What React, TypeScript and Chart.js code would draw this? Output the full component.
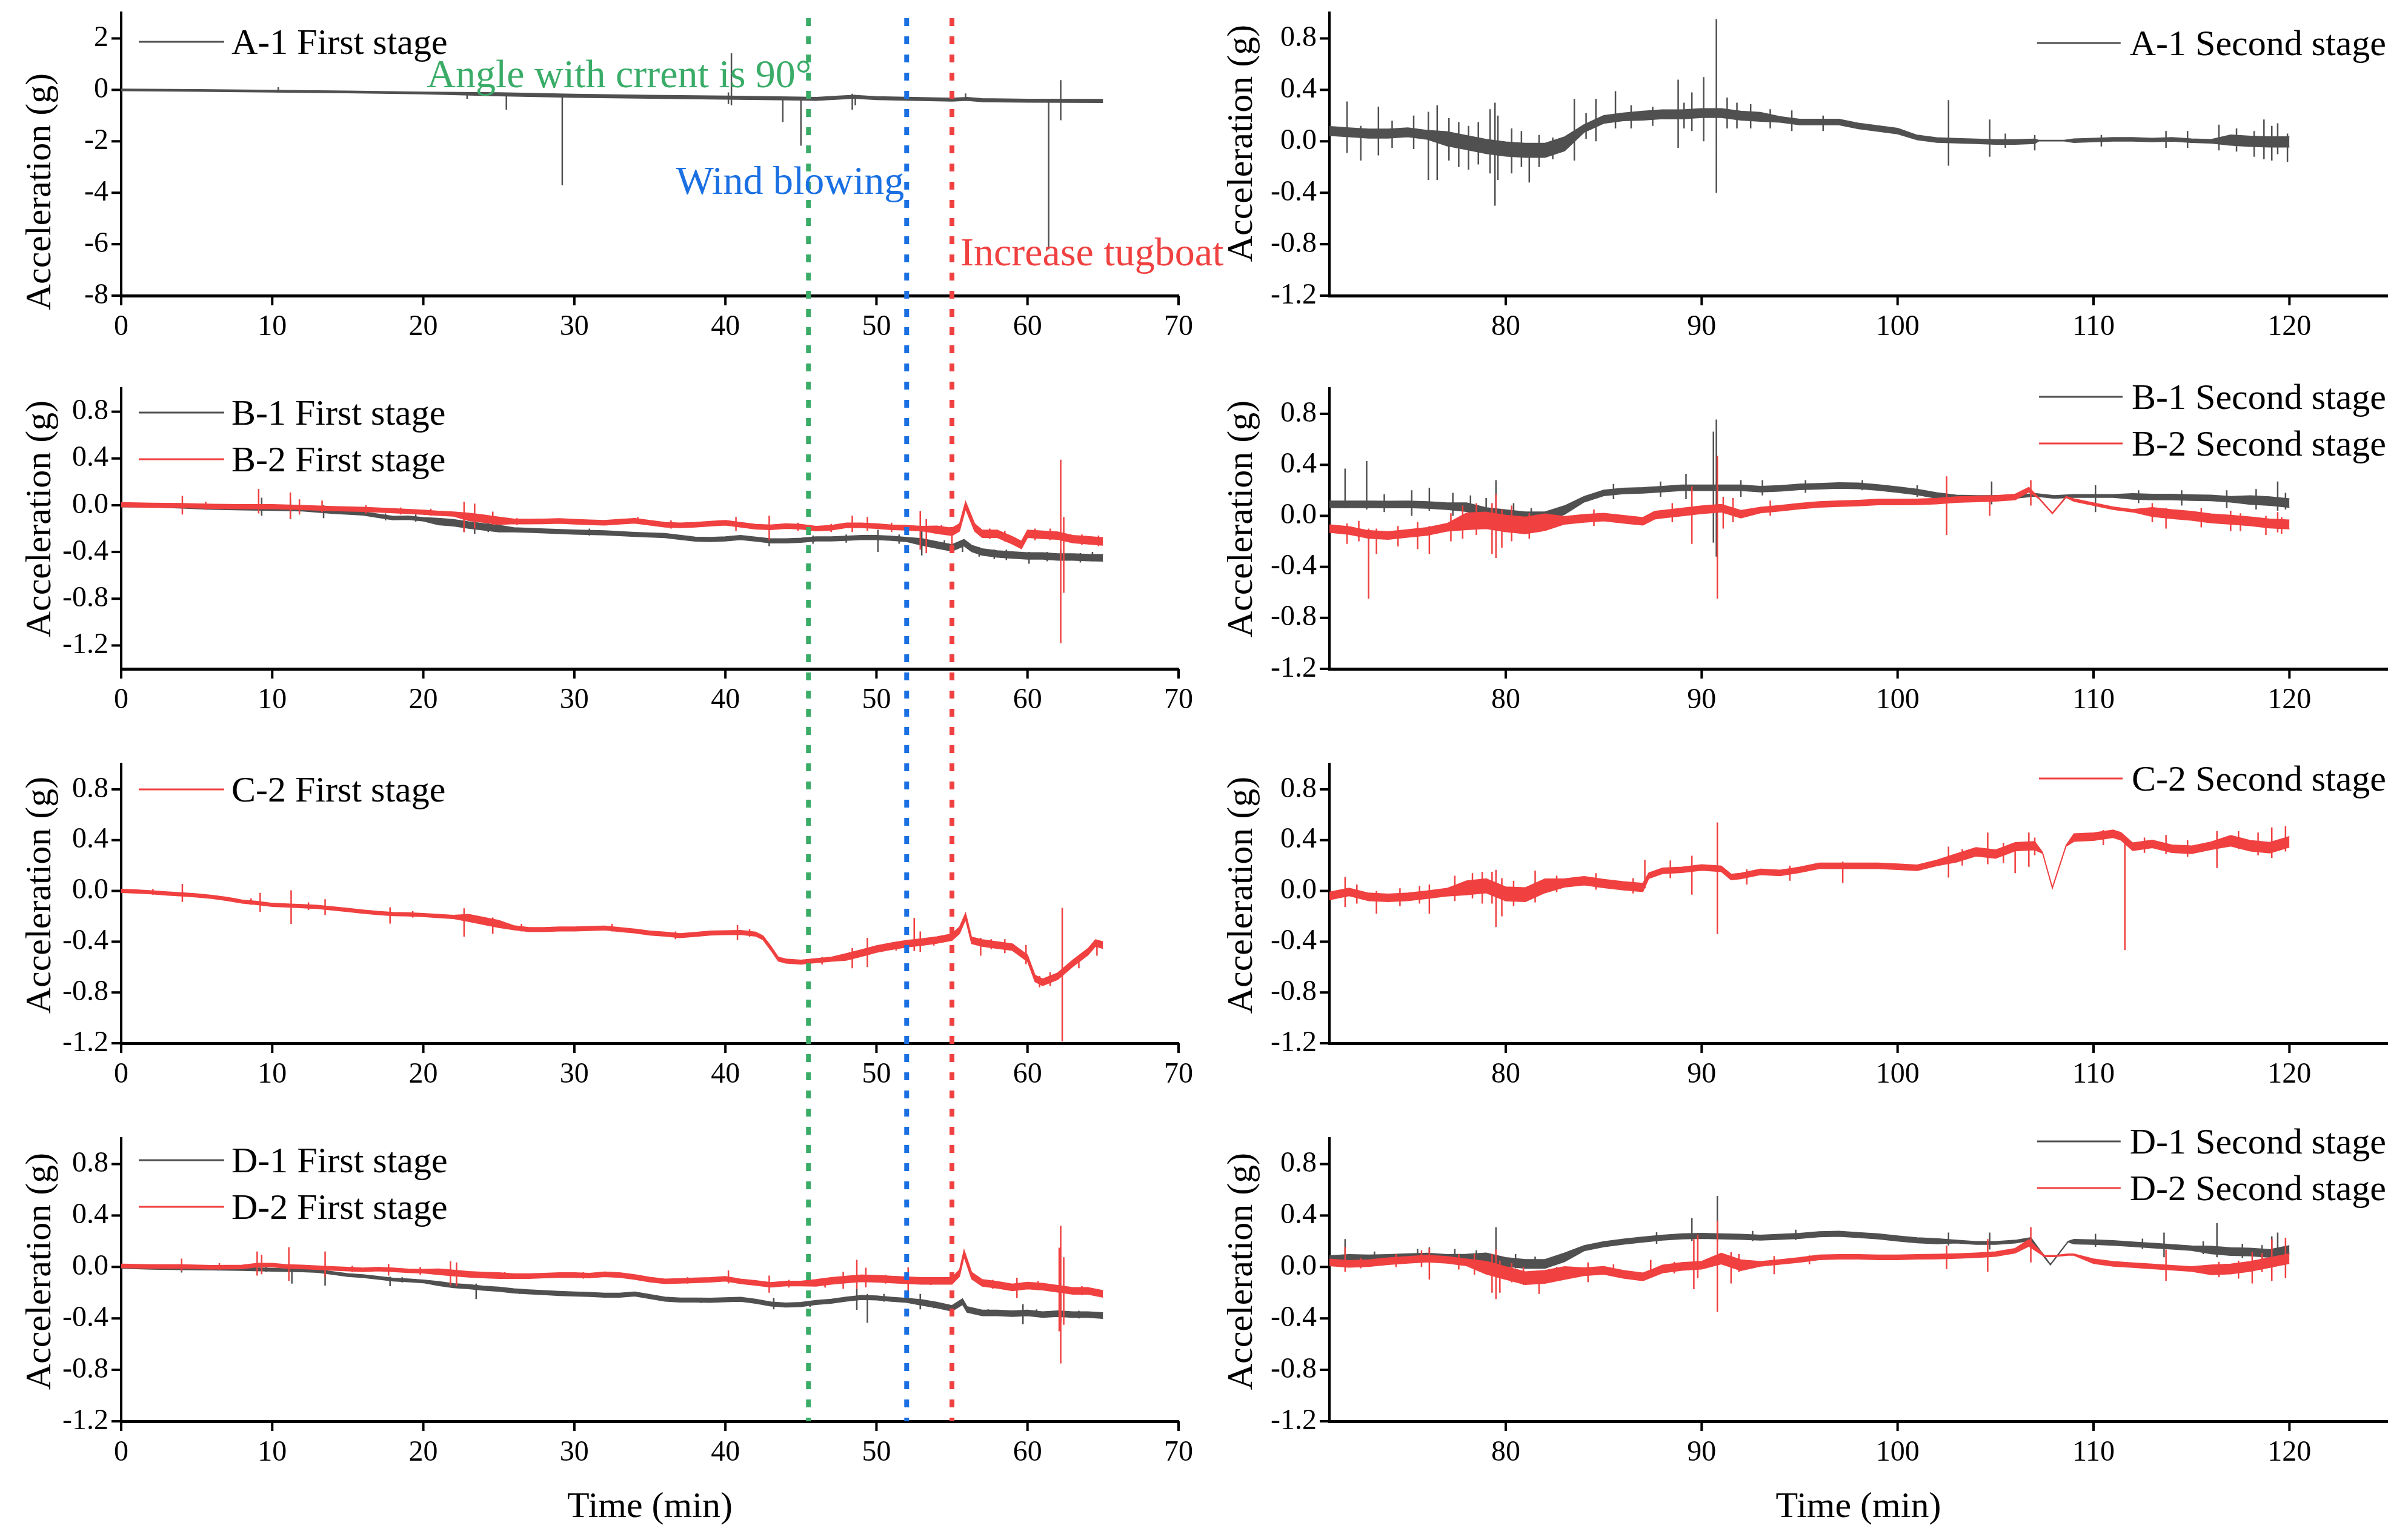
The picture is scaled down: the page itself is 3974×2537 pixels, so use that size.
import React, { useEffect, useRef } from 'react';
import Chart from 'chart.js/auto';

type Pt = [number, number];
type Noise = [number, number, number]; // from, to, half width of the noise band (g)
type Spike = [number, number, number]; // time, low, high (g)

// ---------- axes ----------
const firstStageTicks = [0, 10, 20, 30, 40, 50, 60, 70];
const secondStageTicks = [80, 90, 100, 110, 120];
const accelTicks = [-1.2, -0.8, -0.4, 0, 0.4, 0.8];
const a1FirstAccelTicks = [-8, -6, -4, -2, 0, 2];

// ---------- events during the first stage (min) ----------
const eventTimes = [45.5, 52, 55];
const eventLabels = ['Angle with crrent is 90°', 'Wind blowing', 'Increase tugboat'];

// ---------- A-1 ----------
const a1First: Pt[] = [[0, 0], [5, -0.02], [10, -0.05], [15, -0.08], [20, -0.12], [25, -0.17], [30, -0.23], [35, -0.27], [40, -0.3], [45, -0.34], [46, -0.35], [47.5, -0.3], [48.5, -0.27], [50, -0.32], [55, -0.38], [56, -0.35], [57, -0.4], [60, -0.42], [65, -0.43]];
const a1FirstNoise: Noise[] = [[0, 20, 0.035], [20, 65, 0.06]];
const a1FirstSpikes: Spike[] = [[10.4, -0.1, 0.1], [22.9, -0.35, -0.1], [25.5, -0.77, -0.18], [29.2, -3.71, -0.2], [40.2, -0.55, -0.1], [40.4, -0.6, 1.42], [43.8, -1.25, -0.3], [45.0, -2.17, -0.3], [48.4, -0.77, -0.15], [48.6, -0.6, -0.2], [55.9, -0.4, -0.14], [61.4, -6.2, -0.4], [62.2, -1.18, 0.38]];

const a1Second: Pt[] = [[71, 0.08], [72, 0.07], [73, 0.06], [74, 0.06], [75, 0.07], [76, 0.05], [77, 0.02], [78, -0.01], [79, -0.04], [80, -0.06], [81, -0.07], [82, -0.07], [83, -0.02], [84, 0.1], [85, 0.17], [86, 0.19], [87, 0.2], [88, 0.21], [89, 0.21], [90, 0.22], [91, 0.22], [92, 0.2], [93, 0.19], [94, 0.17], [95, 0.15], [96, 0.15], [97, 0.15], [98, 0.12], [99, 0.1], [100, 0.08], [101, 0.03], [102, 0.01], [103, 0.005], [104, 0], [105, -0.005], [106, -0.005], [107, 0], [107.2, 0.005], [108.5, 0.005], [109, 0.005], [110, 0.01], [111, 0.015], [112, 0.015], [113, 0.01], [114, 0.015], [115, 0.005], [116, 0], [117, 0.01], [118, 0], [119, -0.005], [120, -0.005]];
const a1SecondNoise: Noise[] = [[71, 76, 0.035], [76, 83, 0.055], [83, 86, 0.03], [86, 93, 0.035], [93, 100, 0.022], [100, 107, 0.018], [107.2, 108.5, 0.003], [108.5, 116, 0.014], [116, 120, 0.04]];
const a1SecondSpikes: Spike[] = [[71.9, -0.09, 0.31], [72.6, -0.15, 0.12], [73.5, -0.11, 0.27], [74.2, -0.05, 0.16], [75.3, -0.06, 0.2], [76.05, -0.3, 0.23], [76.5, -0.3, 0.28], [77.1, -0.15, 0.18], [77.6, -0.2, 0.15], [78.1, -0.22, 0.12], [78.6, -0.18, 0.15], [79.2, -0.25, 0.25], [79.45, -0.5, 0.3], [79.6, -0.3, 0.2], [80.3, -0.25, 0.1], [80.8, -0.2, 0.08], [81.2, -0.32, -0.05], [81.7, -0.2, 0.05], [82.4, -0.14, 0.03], [83.5, -0.15, 0.33], [84.1, 0.02, 0.22], [84.6, 0.0, 0.33], [85.6, 0.1, 0.39], [86.4, 0.1, 0.28], [87.5, 0.12, 0.27], [88.8, -0.05, 0.48], [89.1, 0.1, 0.3], [89.5, 0.08, 0.38], [90.1, 0.0, 0.5], [90.75, -0.4, 0.95], [91.3, 0.1, 0.34], [91.8, 0.1, 0.3], [92.5, 0.1, 0.29], [93.5, 0.1, 0.25], [94.6, 0.08, 0.24], [96.2, 0.08, 0.2], [102.6, -0.19, 0.32], [104.7, -0.12, 0.17], [105.5, -0.05, 0.06], [107, -0.07, 0.05], [110.4, -0.04, 0.05], [113.7, -0.05, 0.08], [114.8, -0.05, 0.08], [116.4, -0.07, 0.13], [117.3, -0.08, 0.1], [118.2, -0.12, 0.08], [118.7, -0.14, 0.17], [119.1, -0.15, 0.12], [119.4, -0.1, 0.14], [119.9, -0.16, 0.06]];

// ---------- B-1 / B-2 ----------
const b1First: Pt[] = [[0, 0], [2, 0], [4, -0.01], [6, -0.02], [8, -0.025], [10, -0.03], [12, -0.035], [14, -0.055], [16, -0.07], [17, -0.09], [18, -0.11], [19, -0.107], [20, -0.12], [21, -0.14], [22, -0.15], [23, -0.17], [24, -0.185], [25, -0.2], [26, -0.21], [27, -0.215], [28, -0.22], [30, -0.23], [32, -0.236], [34, -0.25], [36, -0.26], [37, -0.275], [38, -0.29], [39, -0.293], [40, -0.288], [41, -0.276], [42, -0.29], [43, -0.305], [44, -0.305], [45, -0.3], [46, -0.288], [47, -0.288], [48, -0.283], [49, -0.276], [50, -0.276], [51, -0.283], [52, -0.293], [53, -0.314], [54, -0.34], [55, -0.365], [55.8, -0.32], [56.3, -0.37], [57, -0.4], [58, -0.417], [59, -0.426], [60, -0.434], [61, -0.434], [62, -0.443], [63, -0.443], [64, -0.448], [65, -0.45]];
const b1FirstNoise: Noise[] = [[0, 20, 0.015], [20, 25, 0.028], [25, 52, 0.018], [52, 65, 0.028]];
const b1FirstSpikes: Spike[] = [[9.3, -0.09, 0.065], [11.2, -0.12, 0.05], [13.4, -0.11, 0.0], [17.5, -0.13, -0.07], [19.5, -0.14, -0.08], [22.7, -0.23, -0.1], [23.4, -0.245, -0.12], [24.3, -0.23, -0.15], [31, -0.26, -0.2], [42.9, -0.35, -0.28], [45.8, -0.33, -0.26], [48, -0.32, -0.25], [50.1, -0.4, -0.21], [51.5, -0.33, -0.25], [53, -0.43, -0.19], [54.5, -0.38, -0.3], [55.7, -0.4, -0.32], [56.8, -0.44, -0.36], [57.8, -0.46, -0.38], [58.6, -0.47, -0.38], [60.1, -0.5, -0.4], [61.3, -0.48, -0.4], [62.2, -0.47, -0.38], [63.5, -0.49, -0.41], [64.3, -0.48, -0.4]];

const b2First: Pt[] = [[0, 0.005], [2, 0], [4, -0.003], [6, -0.009], [8, -0.012], [10, -0.012], [12, -0.02], [14, -0.029], [16, -0.035], [18, -0.047], [20, -0.06], [21, -0.069], [22, -0.076], [23, -0.1], [24, -0.115], [25, -0.133], [26, -0.138], [27, -0.14], [28, -0.138], [29, -0.135], [30, -0.141], [31, -0.146], [32, -0.15], [33, -0.141], [34, -0.133], [35, -0.15], [36, -0.167], [37, -0.172], [38, -0.167], [39, -0.158], [40, -0.15], [41, -0.167], [42, -0.184], [43, -0.189], [44, -0.179], [45, -0.184], [46, -0.2], [47, -0.193], [48, -0.172], [49, -0.172], [50, -0.179], [51, -0.189], [52, -0.193], [53, -0.2], [54, -0.21], [55, -0.228], [55.5, -0.19], [55.9, 0.0], [56.5, -0.19], [57, -0.245], [58, -0.245], [59, -0.3], [59.6, -0.34], [60, -0.245], [61, -0.253], [62, -0.26], [63, -0.29], [64, -0.3], [65, -0.31]];
const b2FirstNoise: Noise[] = [[0, 22, 0.018], [22, 25, 0.032], [25, 53, 0.02], [53, 65, 0.032]];
const b2FirstSpikes: Spike[] = [[4.05, -0.08, 0.08], [5.6, -0.04, 0.03], [9.1, -0.07, 0.14], [11.2, -0.12, 0.11], [11.8, -0.08, 0.05], [13.3, -0.06, 0.04], [16.2, -0.07, 0.0], [18.5, -0.08, -0.02], [20.5, -0.09, -0.03], [22.7, -0.23, 0.03], [23.4, -0.2, 0.014], [24.6, -0.17, -0.055], [26.2, -0.17, -0.11], [34.2, -0.16, -0.1], [36.4, -0.2, -0.13], [40.7, -0.22, -0.1], [42.9, -0.3, -0.09], [44.8, -0.22, -0.15], [47, -0.23, -0.16], [48.4, -0.23, -0.09], [49.4, -0.22, -0.1], [51, -0.23, -0.15], [52.9, -0.38, -0.05], [53.3, -0.41, -0.12], [54.3, -0.25, -0.17], [55, -0.41, -0.2], [57.5, -0.29, -0.2], [58.5, -0.31, -0.22], [60.5, -0.3, -0.2], [61.5, -0.3, -0.2], [62.2, -1.18, 0.39], [62.4, -0.75, -0.1], [63.6, -0.34, -0.25], [64.7, -0.35, -0.26]];

const b1Second: Pt[] = [[71, 0.09], [72, 0.09], [73, 0.09], [74, 0.089], [75, 0.09], [76, 0.085], [77, 0.076], [78, 0.068], [79, 0.03], [80, 0.013], [81, -0.003], [82, -0.003], [83, 0.045], [84, 0.13], [85, 0.18], [86, 0.195], [87, 0.2], [88, 0.21], [89, 0.22], [90, 0.22], [91, 0.22], [92, 0.22], [93, 0.21], [94, 0.215], [95, 0.227], [96, 0.232], [97, 0.238], [98, 0.235], [99, 0.222], [100, 0.206], [101, 0.187], [102, 0.159], [103, 0.152], [104, 0.148], [105, 0.148], [106, 0.148], [107, 0.165], [108, 0.148], [109, 0.156], [110, 0.156], [111, 0.156], [112, 0.152], [113, 0.148], [114, 0.148], [115, 0.143], [116, 0.14], [117, 0.13], [118, 0.124], [119, 0.116], [120, 0.1]];
const b1SecondNoise: Noise[] = [[71, 77, 0.026], [77, 83, 0.034], [83, 102, 0.022], [102, 111, 0.011], [111, 117, 0.022], [117, 120, 0.034]];
const b1SecondSpikes: Spike[] = [[71.8, 0.06, 0.37], [72.9, 0.05, 0.43], [73.8, 0.03, 0.17], [75.2, 0.0, 0.2], [76.1, 0.04, 0.22], [77.3, 0.0, 0.18], [78.2, -0.03, 0.16], [79.0, -0.06, 0.14], [79.5, -0.05, 0.28], [80.4, -0.06, 0.1], [81.3, -0.08, 0.06], [85.5, 0.13, 0.25], [87.9, 0.15, 0.27], [89.2, 0.13, 0.33], [90.6, -0.21, 0.66], [90.75, -0.32, 0.755], [92.0, 0.15, 0.28], [93.1, 0.16, 0.28], [95.3, 0.18, 0.28], [98.2, 0.2, 0.28], [101, 0.15, 0.24], [104.8, 0.09, 0.27], [110.1, 0.03, 0.24], [112.3, 0.1, 0.2], [114.5, 0.08, 0.2], [116.8, 0.06, 0.2], [118.3, 0.05, 0.21], [119.4, 0.04, 0.27], [119.8, 0.05, 0.18]];

const b2Second: Pt[] = [[71, -0.1], [72, -0.115], [73, -0.146], [74, -0.154], [75, -0.138], [76, -0.122], [77, -0.09], [78, -0.043], [79, -0.035], [80, -0.06], [81, -0.075], [82, -0.05], [83, -0.035], [84, -0.02], [85, -0.01], [86, -0.027], [87, -0.043], [87.6, 0.005], [88, 0.013], [89, 0.03], [90, 0.048], [91, 0.06], [92, 0.013], [93, 0.045], [94, 0.06], [95, 0.076], [96, 0.089], [97, 0.095], [98, 0.1], [99, 0.108], [100, 0.108], [101, 0.11], [102, 0.116], [103, 0.127], [104, 0.132], [105, 0.137], [106, 0.148], [106.7, 0.206], [107.2, 0.14], [107.9, 0.02], [108.6, 0.148], [109, 0.124], [110, 0.092], [111, 0.06], [112, 0.04], [113, 0.03], [114, 0.013], [115, 0], [116, -0.02], [117, -0.03], [118, -0.043], [119, -0.06], [120, -0.067]];
const b2SecondNoise: Noise[] = [[71, 77, 0.03], [77, 82, 0.065], [82, 92, 0.03], [92, 106, 0.022], [106, 107, 0.018], [107, 108.6, 0.004], [108.6, 112, 0.01], [112, 120, 0.035]];
const b2SecondSpikes: Spike[] = [[71.9, -0.22, -0.06], [72.5, -0.2, -0.04], [73, -0.65, -0.1], [73.4, -0.3, -0.1], [74.5, -0.24, -0.08], [75.5, -0.26, -0.05], [76.1, -0.3, -0.08], [77.2, -0.2, 0.02], [77.8, -0.18, 0.08], [78.5, -0.15, 0.1], [79.3, -0.3, 0.1], [79.5, -0.33, 0.17], [79.8, -0.25, 0.05], [80.3, -0.2, 0.08], [81.2, -0.18, 0.02], [84.5, -0.08, 0.05], [88.5, -0.05, 0.1], [89.5, -0.22, 0.23], [90.8, -0.65, 0.47], [91.1, -0.1, 0.15], [91.6, -0.05, 0.14], [93.5, 0.0, 0.12], [102.5, -0.15, 0.31], [104.7, 0.0, 0.16], [106.8, 0.08, 0.28], [113, -0.05, 0.1], [113.7, -0.1, 0.06], [115.5, -0.09, 0.06], [117, -0.12, 0.04], [117.5, -0.12, 0.02], [118.8, -0.15, 0.0], [119.4, -0.13, 0.03], [119.6, -0.14, -0.01]];

// ---------- C-2 ----------
const c2First: Pt[] = [[0, 0], [1, -0.005], [2, -0.011], [3, -0.02], [4, -0.027], [5, -0.036], [6, -0.047], [7, -0.063], [8, -0.084], [9, -0.095], [10, -0.11], [11, -0.115], [12, -0.12], [13, -0.126], [14, -0.138], [15, -0.15], [16, -0.163], [17, -0.174], [18, -0.182], [19, -0.185], [20, -0.19], [21, -0.198], [22, -0.205], [23, -0.213], [24, -0.237], [25, -0.26], [26, -0.29], [27, -0.305], [28, -0.305], [29, -0.3], [30, -0.3], [31, -0.296], [32, -0.292], [33, -0.305], [34, -0.316], [35, -0.332], [36, -0.34], [37, -0.352], [38, -0.343], [39, -0.332], [40, -0.329], [41, -0.327], [42, -0.34], [42.5, -0.37], [43, -0.45], [43.5, -0.537], [44, -0.553], [45, -0.561], [46, -0.549], [47, -0.538], [48, -0.52], [49, -0.49], [50, -0.458], [51, -0.435], [52, -0.416], [53, -0.403], [54, -0.387], [55, -0.364], [55.5, -0.31], [55.9, -0.2], [56.3, -0.39], [57, -0.41], [58, -0.427], [59, -0.443], [60, -0.53], [60.5, -0.69], [61, -0.72], [62, -0.672], [63, -0.57], [64, -0.48], [64.5, -0.41], [65, -0.427]];
const c2FirstNoise: Noise[] = [[0, 22, 0.013], [22, 25, 0.028], [25, 47, 0.016], [47, 65, 0.026]];
const c2FirstSpikes: Spike[] = [[2.1, -0.03, 0.015], [4.05, -0.087, 0.055], [8.6, -0.11, -0.06], [9.2, -0.165, -0.015], [11.25, -0.26, 0.005], [12.4, -0.15, -0.09], [13.5, -0.19, -0.065], [17.8, -0.257, -0.13], [19.3, -0.21, -0.16], [22.7, -0.36, -0.137], [24.6, -0.337, -0.21], [26.5, -0.32, -0.26], [32.5, -0.32, -0.26], [36.7, -0.38, -0.32], [40.8, -0.387, -0.269], [41.6, -0.36, -0.3], [46.4, -0.58, -0.52], [48.4, -0.61, -0.45], [49.4, -0.6, -0.37], [51.3, -0.47, -0.4], [52.5, -0.474, -0.213], [52.9, -0.48, -0.32], [53.8, -0.43, -0.36], [56.9, -0.51, -0.37], [57.6, -0.46, -0.38], [58.5, -0.49, -0.38], [59.9, -0.577, -0.427], [60.8, -0.76, -0.67], [61.5, -0.75, -0.64], [62.3, -1.186, -0.134], [63.4, -0.61, -0.52], [64.6, -0.51, -0.4]];

const c2Second: Pt[] = [[71, -0.04], [72, -0.008], [73, -0.047], [74, -0.055], [75, -0.047], [76, -0.03], [77, -0.01], [78, 0.024], [79, 0.04], [80, -0.024], [81, -0.03], [82, 0.04], [83, 0.063], [84, 0.08], [85, 0.058], [86, 0.04], [87, 0.027], [87.3, 0.12], [88, 0.158], [89, 0.166], [90, 0.185], [91, 0.174], [91.5, 0.11], [92, 0.118], [93, 0.15], [94, 0.142], [95, 0.166], [96, 0.198], [97, 0.198], [98, 0.198], [99, 0.198], [100, 0.19], [101, 0.182], [102, 0.22], [103, 0.26], [104, 0.308], [105, 0.29], [106, 0.348], [107, 0.356], [107.4, 0.3], [107.9, 0.024], [108.6, 0.356], [109, 0.42], [110, 0.427], [111, 0.45], [111.4, 0.43], [112, 0.348], [113, 0.37], [114, 0.332], [115, 0.324], [116, 0.356], [117, 0.395], [118, 0.356], [119, 0.34], [120, 0.387]];
const c2SecondNoise: Noise[] = [[71, 77, 0.03], [77, 82, 0.055], [82, 87, 0.033], [87, 102, 0.022], [102, 107, 0.033], [107.3, 108.7, 0.004], [108.7, 116, 0.03], [116, 120, 0.042]];
const c2SecondSpikes: Spike[] = [[71.8, -0.126, 0.11], [72.4, -0.1, 0.05], [73.4, -0.18, 0.0], [74.6, -0.12, 0.02], [75.6, -0.1, 0.04], [76.1, -0.18, 0.05], [77.4, -0.08, 0.12], [78.3, -0.06, 0.14], [78.8, -0.1, 0.15], [79.3, -0.1, 0.15], [79.5, -0.285, 0.166], [79.8, -0.2, 0.1], [80.4, -0.12, 0.08], [81.5, -0.09, 0.16], [82.6, -0.01, 0.12], [84.6, 0.01, 0.14], [86.5, -0.02, 0.1], [87.1, 0.02, 0.245], [88.4, 0.1, 0.24], [89.5, -0.03, 0.277], [90.8, -0.34, 0.54], [92.3, 0.05, 0.17], [94.5, 0.08, 0.2], [97.2, 0.063, 0.23], [102.6, 0.105, 0.348], [103.3, 0.2, 0.33], [104.6, 0.21, 0.46], [105.4, 0.22, 0.38], [106, 0.14, 0.37], [106.7, 0.19, 0.46], [107, 0.28, 0.42], [110.5, 0.36, 0.48], [111.6, -0.466, 0.43], [112.6, 0.3, 0.42], [113.7, 0.29, 0.44], [114.8, 0.27, 0.4], [116.3, 0.18, 0.47], [117.4, 0.33, 0.47], [118.4, 0.28, 0.46], [119.1, 0.26, 0.5], [119.8, 0.31, 0.51]];

// ---------- D-1 / D-2 ----------
const d1First: Pt[] = [[0, 0], [2, -0.006], [4, -0.01], [6, -0.012], [8, -0.016], [10, -0.022], [12, -0.027], [13, -0.031], [14, -0.047], [15, -0.063], [16, -0.071], [17, -0.084], [18, -0.098], [19, -0.104], [20, -0.112], [21, -0.129], [22, -0.145], [23, -0.153], [24, -0.165], [25, -0.173], [26, -0.186], [27, -0.194], [28, -0.2], [29, -0.206], [30, -0.21], [31, -0.214], [32, -0.22], [33, -0.22], [34, -0.21], [35, -0.23], [36, -0.25], [37, -0.257], [38, -0.257], [39, -0.259], [40, -0.255], [41, -0.251], [42, -0.267], [43, -0.288], [44, -0.296], [45, -0.292], [46, -0.276], [47, -0.267], [48, -0.25], [49, -0.237], [50, -0.241], [51, -0.251], [52, -0.26], [53, -0.276], [54, -0.296], [55, -0.322], [55.7, -0.27], [56, -0.33], [57, -0.357], [58, -0.357], [59, -0.363], [60, -0.357], [61, -0.37], [62, -0.363], [63, -0.37], [64, -0.37], [65, -0.378]];
const d1FirstNoise: Noise[] = [[0, 20, 0.011], [20, 52, 0.016], [52, 65, 0.022]];
const d1FirstSpikes: Spike[] = [[4, -0.043, 0.004], [9.6, -0.04, 0.0], [11.3, -0.13, -0.01], [13.5, -0.145, -0.02], [17.8, -0.15, -0.075], [18.6, -0.12, -0.08], [23.5, -0.25, -0.13], [26.4, -0.21, -0.17], [38.4, -0.28, -0.24], [43.2, -0.33, -0.24], [45.6, -0.31, -0.27], [48.7, -0.333, -0.17], [49.4, -0.435, -0.21], [50.5, -0.27, -0.21], [52.9, -0.33, -0.21], [53.8, -0.32, -0.27], [57.4, -0.38, -0.33], [59.7, -0.445, -0.29], [60.6, -0.39, -0.33], [62.2, -0.43, -0.21], [63.4, -0.4, -0.34]];

const d2First: Pt[] = [[0, 0.008], [2, 0.004], [4, 0.004], [6, -0.002], [8, 0], [9, 0.014], [10, 0.014], [11, 0.004], [12, 0], [13, -0.006], [14, -0.012], [15, -0.016], [16, -0.022], [17, -0.016], [18, -0.022], [19, -0.03], [20, -0.033], [21, -0.037], [22, -0.047], [23, -0.057], [24, -0.063], [25, -0.067], [26, -0.071], [27, -0.071], [28, -0.067], [29, -0.063], [30, -0.063], [31, -0.067], [32, -0.057], [33, -0.063], [34, -0.078], [35, -0.098], [36, -0.112], [37, -0.108], [38, -0.104], [39, -0.1], [40, -0.092], [41, -0.112], [42, -0.124], [43, -0.139], [44, -0.129], [45, -0.129], [46, -0.124], [47, -0.108], [48, -0.098], [49, -0.088], [50, -0.092], [51, -0.098], [52, -0.104], [53, -0.108], [54, -0.108], [55, -0.108], [55.5, -0.047], [55.8, 0.106], [56.3, -0.067], [57, -0.124], [58, -0.139], [59, -0.159], [60, -0.145], [61, -0.153], [62, -0.17], [63, -0.186], [64, -0.186], [65, -0.21]];
const d2FirstNoise: Noise[] = [[0, 20, 0.014], [20, 25, 0.022], [25, 45, 0.018], [45, 65, 0.026]];
const d2FirstSpikes: Spike[] = [[4, -0.03, 0.065], [6.5, -0.02, 0.03], [9, -0.067, 0.12], [9.3, -0.057, 0.096], [11.1, -0.108, 0.153], [13.5, -0.077, 0.12], [15.3, -0.04, 0.01], [17.7, -0.067, 0.025], [19.8, -0.06, 0.0], [21.8, -0.143, 0.045], [22.2, -0.149, 0.035], [25.4, -0.09, -0.04], [30.6, -0.09, -0.04], [37.5, -0.13, -0.08], [40.2, -0.128, -0.027], [42.9, -0.2, -0.067], [44.2, -0.16, -0.1], [46.6, -0.16, -0.09], [47.8, -0.169, -0.037], [48.7, -0.169, 0.055], [49.3, -0.159, -0.006], [50.6, -0.13, -0.06], [52.1, -0.23, -0.004], [53.6, -0.14, -0.08], [57.7, -0.17, -0.1], [59.3, -0.241, -0.084], [60.7, -0.18, -0.11], [62.1, -0.5, 0.15], [62.2, -0.75, 0.32], [62.4, -0.45, 0.075], [63.6, -0.22, -0.15]];

const d1Second: Pt[] = [[71, 0.065], [72, 0.075], [73, 0.071], [74, 0.075], [75, 0.08], [76, 0.085], [77, 0.075], [78, 0.065], [79, 0.075], [80, 0.039], [81, 0.024], [82, 0.024], [83, 0.075], [84, 0.146], [85, 0.177], [86, 0.197], [87, 0.213], [88, 0.228], [89, 0.238], [90, 0.242], [91, 0.238], [92, 0.234], [93, 0.228], [94, 0.234], [95, 0.242], [96, 0.254], [97, 0.258], [98, 0.248], [99, 0.238], [100, 0.222], [101, 0.207], [102, 0.2], [103, 0.197], [104, 0.187], [105, 0.187], [106, 0.197], [106.8, 0.217], [107.8, 0.018], [108.7, 0.197], [109, 0.197], [110, 0.193], [111, 0.187], [112, 0.177], [113, 0.167], [114, 0.157], [115, 0.146], [116, 0.132], [117, 0.12], [118, 0.116], [119, 0.106], [120, 0.136]];
const d1SecondNoise: Noise[] = [[71, 77, 0.022], [77, 83, 0.034], [83, 102, 0.02], [102, 106.8, 0.011], [106.8, 108.7, 0.003], [108.7, 115, 0.018], [115, 120, 0.03]];
const d1SecondSpikes: Spike[] = [[71.8, 0.035, 0.217], [73.3, 0.03, 0.12], [75.5, 0.04, 0.14], [76.1, 0.035, 0.153], [77.4, 0.03, 0.14], [78.5, 0.02, 0.13], [79.5, -0.016, 0.31], [80.5, -0.01, 0.1], [81.5, -0.01, 0.08], [87.7, 0.18, 0.27], [89.5, 0.2, 0.38], [90.8, 0.197, 0.553], [92.6, 0.2, 0.28], [94.8, 0.21, 0.29], [102.6, 0.167, 0.268], [104.7, 0.136, 0.268], [110.1, 0.156, 0.258], [112.5, 0.14, 0.22], [113.6, 0.075, 0.268], [115.6, 0.1, 0.2], [116.3, 0.075, 0.34], [117.6, 0.07, 0.18], [118.6, 0.06, 0.17], [119.1, 0.035, 0.238], [119.4, 0.014, 0.268]];

const d2Second: Pt[] = [[71, 0.035], [72, 0.024], [73, 0.03], [74, 0.045], [75, 0.055], [76, 0.065], [77, 0.055], [78, 0.035], [79, -0.006], [80, -0.047], [81, -0.087], [82, -0.077], [83, -0.047], [84, -0.037], [85, -0.026], [86, -0.057], [87, -0.077], [87.5, -0.047], [88, -0.016], [89, 0.004], [90, 0.014], [91, 0.065], [92, 0.014], [93, 0.024], [94, 0.039], [95, 0.055], [96, 0.075], [97, 0.079], [98, 0.079], [99, 0.075], [100, 0.075], [101, 0.079], [102, 0.081], [103, 0.085], [104, 0.091], [105, 0.1], [106, 0.126], [106.7, 0.187], [107.5, 0.085], [108, 0.085], [108.7, 0.096], [109, 0.096], [110, 0.045], [111, 0.024], [112, 0.014], [113, 0.004], [114, -0.006], [115, -0.016], [116, -0.022], [117, -0.016], [118, 0.004], [119, 0.035], [120, 0.065]];
const d2SecondNoise: Noise[] = [[71, 78, 0.026], [78, 83, 0.05], [83, 90, 0.03], [90, 92, 0.042], [92, 106, 0.018], [106, 107.4, 0.026], [107.4, 109, 0.005], [109, 115, 0.018], [115, 120, 0.038]];
const d2SecondSpikes: Spike[] = [[71.8, -0.037, 0.157], [72.6, -0.01, 0.07], [74.4, 0.0, 0.1], [75.7, 0.0, 0.13], [76.1, -0.098, 0.146], [77.6, -0.02, 0.1], [78.4, -0.06, 0.1], [79.3, -0.2, 0.1], [79.5, -0.25, 0.136], [79.7, -0.2, 0.05], [80.3, -0.12, 0.03], [80.9, -0.14, 0.0], [81.7, -0.209, -0.047], [82.6, -0.11, 0.0], [84.2, -0.118, 0.035], [85.5, -0.06, 0.02], [87.4, -0.077, 0.055], [88.6, -0.05, 0.04], [89.6, -0.173, 0.217], [89.8, -0.087, 0.248], [90.8, -0.35, 0.36], [91.5, -0.128, 0.116], [91.9, -0.04, 0.1], [93.7, -0.057, 0.085], [95.5, 0.02, 0.09], [102.5, -0.016, 0.167], [104.6, -0.037, 0.217], [106.8, 0.035, 0.31], [113.7, -0.108, 0.136], [116.4, -0.08, 0.04], [117.4, -0.09, 0.05], [118.1, -0.128, 0.116], [118.6, -0.04, 0.11], [119.1, -0.108, 0.217], [119.8, -0.087, 0.227]];

// ---------- styles ----------
const FAMILY = '"Liberation Serif", "Times New Roman", serif';
const GRAY = 'rgb(80,80,80)';
const RED = 'rgb(240,64,64)';
const EVENT_COLORS = ['rgb(58,172,104)', 'rgb(26,112,226)', 'rgb(240,64,64)'];

interface Series {
  label: string;
  color: string;
  order: number;
  mean: Pt[];
  noise: Noise[];
  spikes: Spike[];
}

interface Note { dx: number; y: number; align: CanvasTextAlign }

interface PanelCfg {
  x: number; y: number; w: number; h: number;
  padTop: number; padBottom: number; padRight: number;
  yWidth: number; xHeight: number;
  xMin: number; xMax: number; xMajors: number[];
  yMin: number; yMax: number; yMajors: number[]; yDecimals: number;
  series: Series[];
  legendSide: 'left' | 'right'; legendDy: number;
  titleX: number; titleDy: number;
  xTitle: boolean;
  markers: 'top' | 'mid' | 'bottom' | null;
  notes: Note[];
}

const noiseAt = (noise: Noise[], t: number) => {
  const seg = noise.find(([a, b]) => t >= a && t <= b);
  return seg ? seg[2] : 0;
};

const seriesDatasets = (s: Series) => [
  {
    data: s.mean.map(([t, v]) => ({ x: t, y: v + noiseAt(s.noise, t) })),
    borderColor: s.color, backgroundColor: s.color, borderWidth: 1.5, fill: '+1', order: s.order,
  },
  {
    data: s.mean.map(([t, v]) => ({ x: t, y: v - noiseAt(s.noise, t) })),
    borderColor: s.color, borderWidth: 1.5, fill: false, order: s.order,
  },
  {
    data: s.spikes.flatMap(([t, lo, hi]) => [{ x: t, y: lo }, { x: t, y: hi }, { x: t, y: null }]),
    borderColor: s.color, borderWidth: 2.5, fill: false, order: s.order,
  },
];

// major ticks plus a minor tick half way between them
const withMinors = (majors: number[], min: number, max: number) => {
  const half = (majors[1] - majors[0]) / 2;
  const out: number[] = [];
  for (let v = majors[0]; v >= min - 1e-9; v -= half) out.push(+v.toFixed(4));
  for (let v = majors[0] + half; v <= max + 1e-9; v += half) out.push(+v.toFixed(4));
  return out.sort((a, b) => a - b);
};
const isMajor = (majors: number[], v: number) => majors.some((m) => Math.abs(m - v) < 1e-6);

function buildConfig(p: PanelCfg): any {
  const xTicks = withMinors(p.xMajors, p.xMin, p.xMax);
  const yTicks = withMinors(p.yMajors, p.yMin, p.yMax);

  const decor = {
    id: 'decor',
    afterDatasetsDraw(chart: any) {
      const { ctx, chartArea: ca } = chart;
      const xs = chart.scales.x;
      const ys = chart.scales.y;
      ctx.save();
      if (p.markers) {
        const y0 = p.markers === 'top' ? ca.top : 0;
        const y1 = p.markers === 'bottom' ? ca.bottom : chart.height;
        eventTimes.forEach((t, i) => {
          const px = xs.getPixelForValue(t);
          ctx.strokeStyle = EVENT_COLORS[i];
          ctx.lineWidth = 8;
          ctx.setLineDash([13, 17]);
          ctx.lineDashOffset = p.y + y0;
          ctx.beginPath();
          ctx.moveTo(px, y0);
          ctx.lineTo(px, y1);
          ctx.stroke();
        });
        ctx.setLineDash([]);
      }
      p.notes.forEach((n, i) => {
        ctx.font = `66px ${FAMILY}`;
        ctx.fillStyle = EVENT_COLORS[i];
        ctx.textAlign = n.align;
        ctx.textBaseline = 'alphabetic';
        ctx.fillText(eventLabels[i], xs.getPixelForValue(eventTimes[i]) + n.dx, ys.getPixelForValue(n.y));
      });
      ctx.restore();
    },
    afterDraw(chart: any) {
      const { ctx, chartArea: ca } = chart;
      const xs = chart.scales.x;
      const ys = chart.scales.y;
      ctx.save();
      // tick marks, long for labelled ticks, short for minor ones
      ctx.strokeStyle = '#000';
      ctx.lineWidth = 4;
      xs.ticks.forEach((tk: any) => {
        const px = xs.getPixelForValue(tk.value);
        const len = tk.label == null ? 9 : 16;
        ctx.beginPath();
        ctx.moveTo(px, ca.bottom);
        ctx.lineTo(px, ca.bottom + len);
        ctx.stroke();
      });
      ys.ticks.forEach((tk: any) => {
        const py = ys.getPixelForValue(tk.value);
        const len = tk.label == null ? 9 : 16;
        ctx.beginPath();
        ctx.moveTo(ca.left - len, py);
        ctx.lineTo(ca.left, py);
        ctx.stroke();
      });
      // y title
      ctx.save();
      ctx.translate(p.titleX, (ca.top + ca.bottom) / 2 + p.titleDy);
      ctx.rotate(-Math.PI / 2);
      ctx.font = `60px ${FAMILY}`;
      ctx.fillStyle = '#000';
      ctx.textAlign = 'center';
      ctx.textBaseline = 'middle';
      ctx.fillText('Acceleration (g)', 0, 0);
      ctx.restore();
      // legend
      ctx.font = `60px ${FAMILY}`;
      ctx.textBaseline = 'alphabetic';
      ctx.textAlign = 'left';
      p.series.forEach((s, i) => {
        const ly = ca.top + p.legendDy + i * 77;
        const len = p.legendSide === 'left' ? 141 : 138;
        let x0: number;
        let tx: number;
        if (p.legendSide === 'left') {
          x0 = ca.left + 29;
          tx = x0 + len + 12;
        } else {
          const w = ctx.measureText(s.label).width;
          tx = ca.right - 2 - w;
          x0 = tx - 15 - len;
        }
        ctx.strokeStyle = s.color;
        ctx.lineWidth = 3;
        ctx.beginPath();
        ctx.moveTo(x0, ly);
        ctx.lineTo(x0 + len, ly);
        ctx.stroke();
        ctx.fillStyle = '#000';
        ctx.fillText(s.label, tx, ly + 20);
      });
      ctx.restore();
    },
  };

  return {
    type: 'line',
    data: { datasets: p.series.flatMap(seriesDatasets) },
    options: {
      animation: false,
      responsive: false,
      devicePixelRatio: 1,
      layout: { padding: { top: p.padTop, bottom: p.padBottom, left: 0, right: p.padRight } },
      elements: { point: { radius: 0 }, line: { tension: 0 } },
      plugins: { legend: { display: false }, tooltip: { enabled: false } },
      scales: {
        x: {
          type: 'linear',
          min: p.xMin,
          max: p.xMax,
          afterBuildTicks: (s: any) => { s.ticks = xTicks.map((v) => ({ value: v })); },
          afterFit: (s: any) => { s.height = p.xHeight; },
          border: { display: true, color: '#000', width: 5 },
          grid: { display: false, drawTicks: true, tickLength: 16 },
          ticks: {
            autoSkip: false, maxRotation: 0, padding: 8, color: '#000',
            font: { family: FAMILY, size: 48 },
            callback: (v: number) => (isMajor(p.xMajors, v) ? String(Math.round(v)) : null),
          },
          title: {
            display: p.xTitle, text: 'Time (min)', color: '#000',
            font: { family: FAMILY, size: 60 }, padding: { top: 0, bottom: 4 },
          },
        },
        y: {
          type: 'linear',
          min: p.yMin,
          max: p.yMax,
          afterBuildTicks: (s: any) => { s.ticks = yTicks.map((v) => ({ value: v })); },
          afterFit: (s: any) => { s.width = p.yWidth; },
          border: { display: true, color: '#000', width: 4 },
          grid: { display: false, drawTicks: true, tickLength: 16 },
          ticks: {
            autoSkip: false, padding: 5, color: '#000',
            font: { family: FAMILY, size: 48 },
            callback: (v: number) => (isMajor(p.yMajors, v) ? v.toFixed(p.yDecimals) : null),
          },
          title: { display: false },
        },
      },
    },
    plugins: [decor],
  };
}

const left = { x: 0, w: 2100, padRight: 155, yWidth: 200, titleX: 67, legendSide: 'left' as const };
const right = { x: 1990, w: 1984, padRight: 34, yWidth: 204, titleX: 60, legendSide: 'right' as const };
const firstX = { xMin: 0, xMax: 70, xMajors: firstStageTicks };
const secondX = { xMin: 71, xMax: 125, xMajors: secondStageTicks };
const accelY = { yMin: -1.2, yMax: 1.0, yMajors: accelTicks, yDecimals: 1 };

const s = (label: string, color: string, mean: Pt[], noise: Noise[], spikes: Spike[]): Series =>
  ({ label, color, order: color === RED ? 1 : 2, mean, noise, spikes });

// the left canvases touch each other so the event lines run through all four rows
const panels: PanelCfg[] = [
  {
    ...left, ...firstX, y: -19, h: 620, padTop: 40, padBottom: 0, xHeight: 113,
    yMin: -8, yMax: 3, yMajors: a1FirstAccelTicks, yDecimals: 0,
    series: [s('A-1 First stage', GRAY, a1First, a1FirstNoise, a1FirstSpikes)],
    legendDy: 48, titleDy: 62, xTitle: false, markers: 'top',
    notes: [{ dx: 5, y: 0.1, align: 'right' }, { dx: -4, y: -4.04, align: 'right' }, { dx: 14, y: -6.83, align: 'left' }],
  },
  {
    ...right, ...secondX, ...accelY, y: -19, h: 660, padTop: 40, padBottom: 0, xHeight: 153,
    series: [s('A-1 Second stage', GRAY, a1Second, a1SecondNoise, a1SecondSpikes)],
    legendDy: 50, titleDy: -18, xTitle: false, markers: null, notes: [],
  },
  {
    ...left, ...firstX, ...accelY, yMin: -1.4, y: 601, h: 620, padTop: 40, padBottom: 0, xHeight: 117,
    series: [s('B-1 First stage', GRAY, b1First, b1FirstNoise, b1FirstSpikes), s('B-2 First stage', RED, b2First, b2FirstNoise, b2FirstSpikes)],
    legendDy: 40, titleDy: -16, xTitle: false, markers: 'mid', notes: [],
  },
  {
    ...right, ...secondX, ...accelY, y: 581, h: 680, padTop: 60, padBottom: 0, xHeight: 157,
    series: [s('B-1 Second stage', GRAY, b1Second, b1SecondNoise, b1SecondSpikes), s('B-2 Second stage', RED, b2Second, b2SecondNoise, b2SecondSpikes)],
    legendDy: 14, titleDy: -16, xTitle: false, markers: null, notes: [],
  },
  {
    ...left, ...firstX, ...accelY, y: 1221, h: 618, padTop: 40, padBottom: 0, xHeight: 117,
    series: [s('C-2 First stage', RED, c2First, c2FirstNoise, c2FirstSpikes)],
    legendDy: 42, titleDy: -14, xTitle: false, markers: 'mid', notes: [],
  },
  {
    ...right, ...secondX, ...accelY, y: 1201, h: 678, padTop: 60, padBottom: 0, xHeight: 157,
    series: [s('C-2 Second stage', RED, c2Second, c2SecondNoise, c2SecondSpikes)],
    legendDy: 24, titleDy: -14, xTitle: false, markers: null, notes: [],
  },
  {
    ...left, ...firstX, ...accelY, y: 1839, h: 698, padTop: 40, padBottom: 9, xHeight: 182,
    series: [s('D-1 First stage', GRAY, d1First, d1FirstNoise, d1FirstSpikes), s('D-2 First stage', RED, d2First, d2FirstNoise, d2FirstSpikes)],
    legendDy: 36, titleDy: -14, xTitle: true, markers: 'bottom', notes: [],
  },
  {
    ...right, ...secondX, ...accelY, y: 1819, h: 718, padTop: 60, padBottom: 9, xHeight: 182,
    series: [s('D-1 Second stage', GRAY, d1Second, d1SecondNoise, d1SecondSpikes), s('D-2 Second stage', RED, d2Second, d2SecondNoise, d2SecondSpikes)],
    legendDy: 5, titleDy: -14, xTitle: true, markers: null, notes: [],
  },
];

const Panel: React.FC<{ cfg: PanelCfg }> = ({ cfg }) => {
  const ref = useRef<HTMLCanvasElement>(null);
  useEffect(() => {
    if (!ref.current) return;
    const chart = new Chart(ref.current, buildConfig(cfg));
    return () => chart.destroy();
  }, [cfg]);
  return (
    <canvas
      ref={ref}
      width={cfg.w}
      height={cfg.h}
      style={{ position: 'absolute', left: cfg.x, top: cfg.y, width: cfg.w, height: cfg.h }}
    />
  );
};

export default function App() {
  useEffect(() => {
    document.body.style.margin = '0';
  }, []);
  return (
    <div style={{ position: 'absolute', left: 0, top: 0, width: 3974, height: 2537, background: '#fff', overflow: 'hidden' }}>
      {panels.map((p, i) => (
        <Panel key={i} cfg={p} />
      ))}
    </div>
  );
}
